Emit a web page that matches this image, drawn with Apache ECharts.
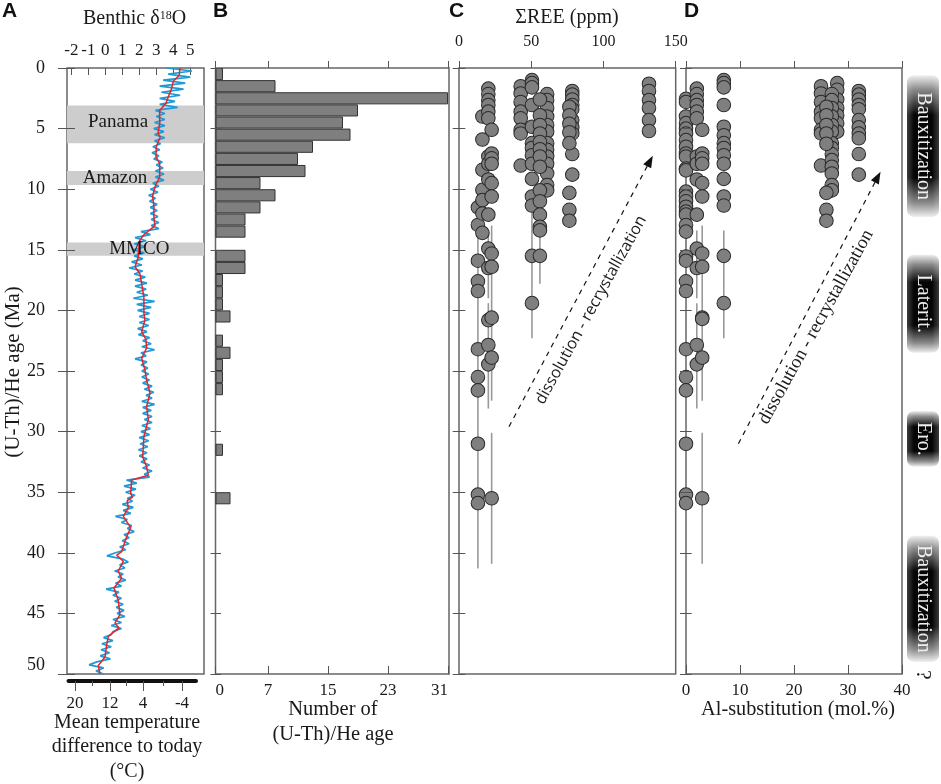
<!DOCTYPE html>
<html><head><meta charset="utf-8">
<script src="https://cdn.jsdelivr.net/npm/echarts@6/dist/echarts.min.js"></script>
<style>html,body{margin:0;padding:0;background:#fff}#c{width:941px;height:784px}</style>
</head><body><div id="c"></div>
<script>
// Panel A: benthic d18O, smoothed curve [age, d18O]
const redAge=[0,0.6,1.1,1.7,2.4,2.9,3.5,4.6,5.4,5.7,6.5,7.3,7.9,9,9.8,10.6,11.4,12.3,13,13.8,14.3,15.6,16.4,17,17.8,18.9,20.2,20.8,21.75,22.4,23.1,23.95,24.9,25.75,26.8,27.95,29,30.4,32.1,32.9,33.6,34,35.1,35.4,35.7,36.3,37,37.3,37.9,38.7,39.9,40.2,40.7,41.5,42.1,42.9,43.9,45.1,45.8,46.2,46.9,47.6,48.6,49.3,50];
const redVal=[4.39,4.35,4,3.9,3.7,3.57,3.2,3.2,3.1,3.23,3,2.98,3.2,3.2,2.92,2.78,2.86,2.86,2.92,2.24,2,1.94,1.75,2.04,2.14,2.27,2.27,2.33,2.14,2.39,2.43,2.14,2.33,2.43,2.63,2.43,2.53,2.27,2.2,2.43,2.53,1.55,1.49,1.6,1.29,1.35,1.06,1.2,1.5,1.25,0.96,0.67,1.06,0.76,0.96,0.51,0.76,0.86,0.57,0.8,0.18,0.08,-0.02,-0.41,-0.31];
// raw d18O read every 0.25 Ma
const blueVal=[3.6,5.1,3.7,5.0,3.4,4.7,3.2,4.6,3.3,4.4,3.2,4.1,3.2,4.25,2.95,3.5,3.0,3.5,2.9,3.5,2.85,3.45,2.9,3.5,2.9,3.25,2.8,3.2,2.75,3.15,2.85,3.35,3.0,3.4,2.95,3.45,2.95,3.45,2.8,3.15,2.65,3.1,2.55,2.95,2.6,3.05,2.65,3.05,2.65,3.1,2.7,3.15,2.7,3.15,2.1,2.65,1.75,2.4,1.7,2.35,1.65,2.3,1.7,2.2,
1.55,2.15,1.4,2.2,1.7,2.35,1.75,2.45,1.75,2.4,1.85,2.5,1.65,2.9,1.85,2.7,1.9,2.6,2.0,2.6,2.0,2.55,1.9,2.45,1.95,2.6,2.2,2.7,2.15,2.9,2.1,2.4,1.75,2.45,2.1,2.5,2.15,2.55,2.15,2.6,2.2,2.75,2.3,2.85,2.4,2.75,2.15,2.9,2.2,2.7,2.2,2.75,2.3,2.75,2.15,2.65,2.1,2.6,2.0,2.55,2.05,2.5,1.95,2.45,2.0,2.45,2.1,2.6,2.2,2.75,2.3,2.6,
1.25,1.85,1.1,1.8,1.2,1.75,1.3,1.6,1.0,1.65,1.05,1.5,0.6,1.3,0.95,1.55,1.3,1.7,1.1,1.4,1.0,1.4,0.85,1.2,0.6,0.1,1.0,1.35,0.85,1.15,0.55,1.05,0.75,1.2,0.6,0.95,0.05,0.8,0.45,0.95,0.55,1.05,0.65,1.1,0.7,1.15,0.45,0.95,0.35,0.95,0.45,0.35,-0.1,0.45,-0.2,0.35,-0.25,0.25,-0.3,0.3,-0.5,-0.95,-0.1,-0.55,-0.1];
const d18oTicks=[-2,-1,0,1,2,3,4,5];
const climateNames=['Panama','Amazon','MMCO'];
const climateFrom=[3.1,8.5,14.4];
const climateTo=[6.2,9.65,15.5];
const climateLabelAge=[4.43,9.05,14.95];
const climateLabelX=[0.75,0.57,2.0];
const tempTickAt=[-1.78,0.28,2.22,4.51];
const tempTickLabels=['20','12','4','-4'];
const tempMinorAt=[-0.78,1.22,3.39];

// Panel B: number of ages per 1 Ma bin, 0-50 Ma
const binCounts=[1,8,31,19,17,18,13,11,12,6,8,6,4,4,0,4,4,1,1,1,2,0,1,2,1,1,1,0,0,0,0,1,0,0,0,2,0,0,0,0,0,0,0,0,0,0,0,0,0,0];
const binLabels=binCounts.map((_,i)=>i+'-'+(i+1));
const countTicks=[0,7,15,23,31];

// Panel C: age values by REE concentration
const cAt13=[11.5,12.95,15.9,17.6,18.4,23.2,25.5,26.6,31,35.2,35.9];
const cAt16=[4.0,5.9,8.4,10.05,10.9,12,13.6];
const cAt20=[1.7,2.15,2.65,3.05,3.6,4.15,7.3,7.9,9.2,12.1,14.9,16.5,20.8,22.85,24.45];
const cAt23=[5.1,7.05,7.45,7.9,9.5,10.6,15.3,16.4,20.6,23.9,35.5];
const cAt43=[1.5,2.1,2.8,3.6,4.15,5.1,5.4,8.05];
const cAt50=[1,1.25,1.6,3.05,4.85,6.2,6.6,7.2,7.9,9.15,10.6,11.35,15.5,19.4];
const cAt56=[2.6,3.9,4.7,5.4,6.1,6.7,7.3,8.15,10.1,11,12.1,13.1,13.4,15.5];
const cAt61=[2.15,2.65,3.3,4,4.7,5.25,6.2,6.75,7.3,7.9,8.7,9.65,10.1];
const cAt76=[3.2,3.9,4.6,5.3,6.2,10.3,11.7,12.6];
const cAt78=[1.9,2.2,2.6,3.05,3.4,4.3,4.9,5.4,7.1,8.8];
const cAt131=[1.3,1.9,2.65,3.3,4.3,5.2];
const cErrX=[13.1,20.3,20.3,22.6,22.6,50.5,56];
const cErrFrom=[13.6,13.4,19.4,13,30.1,10.5,11];
const cErrTo=[41.3,19,28.1,27.45,40.9,22.3,17.8];

// Panel D: age values by Al-substitution
const dAt0=[2.55,2.8,4,4.55,5,5.4,5.95,6.5,7.05,7.3,8.3,8.45,10.2,10.6,11,11.45,11.85,12.1,12.95,13.5,15.55,15.9,17.6,18.4,23.2,25.5,26.6,31,35.2,35.9];
const dAt2=[1.7,2.15,2.65,3.05,3.6,4.15,7.3,7.9,9.2,12.1,14.9,16.5,22.85,24.45];
const dAt3=[5.1,7.05,7.45,7.9,9.5,10.6,15.3,16.4,20.6,20.7,23.9,35.5];
const dAt7=[1,1.25,1.6,3.05,4.85,5.55,6.2,6.6,7.2,7.9,9.15,10.6,11.35,15.5,19.4];
const dAt25=[1.5,2.1,2.8,3.6,4.15,5.1,5.4,8.05];
const dAt26=[3.2,3.9,4.7,5.4,6.25,10.3,11.7,12.6];
const dAt27=[2.15,2.65,3.3,4,4.7,5.25,6.2,6.6,7.1,7.6,8.15,8.7,9.65,10.1];
const dAt28=[1.25,1.8,2.6,3.3,3.9,4.55,5.25];
const dAt32=[1.9,2.2,2.6,3.05,3.4,4.3,4.9,5.4,5.8,7.1,8.8];
const dErrX=[2,2,3,3,7];
const dErrFrom=[13.4,19.4,13,30.1,13.4];
const dErrTo=[19,28.1,27.45,40.9,22.3];

// Weathering phases
const phaseNames=['Bauxitization','Laterit.','Ero.','Bauxitization'];
const phaseFrom=[0.6,15.4,28.3,38.6];
const phaseTo=[12.3,23.5,32.9,49];

const SERIF='"Liberation Serif","Times New Roman",serif';
const INK='#1a1a1a', FRAME='#666';
const NOLINE={show:false,onZero:false};
const chart=echarts.init(document.getElementById('c'),null,{renderer:'canvas'});
const T=68,H=606;
const frame=(left,width)=>({left,width,top:T,height:H,show:true,borderColor:FRAME,borderWidth:1.5,backgroundColor:'transparent',containLabel:false});
const tickLine={color:'#555',width:1};
const lab=(o)=>Object.assign({fontFamily:SERIF,fontSize:17,color:INK},o);
const ageAxis=(gridIndex,offset,len,labels)=>({type:'value',gridIndex,min:0,max:50,interval:5,inverse:true,position:'left',offset:offset,z:5,
  axisLine:NOLINE,splitLine:{show:false},axisTick:{show:true,length:len,lineStyle:tickLine},
  axisLabel:labels?lab({show:true,fontSize:18,margin:30,verticalAlignMaxLabel:'bottom'}):{show:false}});
const hiddenY=(gridIndex)=>({type:'value',gridIndex,min:0,max:50,inverse:true,show:false});

const pts=(x,ages)=>ages.map(a=>[x,a]);
const cPoints=[].concat(pts(131.5,cAt131),pts(78.4,cAt78),pts(76.4,cAt76),pts(61,cAt61),pts(42.7,cAt43),pts(50.5,cAt50),pts(56,cAt56),pts(13.1,cAt13),pts(16.2,cAt16),pts(20.3,cAt20),pts(22.6,cAt23));
const dPoints=[].concat(pts(32,dAt32),pts(25,dAt25),pts(28,dAt28),pts(27,dAt27),pts(26,dAt26),pts(7,dAt7),pts(0,dAt0),pts(2,dAt2),pts(3,dAt3));

const renderErr=(p,api)=>{
  const a=api.coord([api.value(0),api.value(1)]),b=api.coord([api.value(0),api.value(2)]);
  return {type:'line',shape:{x1:a[0],y1:a[1],x2:b[0],y2:b[1]},style:{stroke:'#999',lineWidth:1.6}};
};
const errSeries=(xs,from,to,xi,yi)=>({type:'custom',xAxisIndex:xi,yAxisIndex:yi,z:2,silent:true,clip:false,renderItem:renderErr,encode:{x:0,y:1},
  data:xs.map((x,i)=>[x,from[i],to[i]])});
const scat=(data,xi,yi)=>({type:'scatter',xAxisIndex:xi,yAxisIndex:yi,z:3,symbolSize:13.6,clip:false,data,
  itemStyle:{color:'#7f7f7f',borderColor:'#2a2a2a',borderWidth:1,opacity:1}});
const arrow=(x1,a1,x2,a2,xi,yi)=>({type:'line',xAxisIndex:xi,yAxisIndex:yi,z:4,showSymbol:false,silent:true,
  data:[[x1,a1],[x2,a2]],symbol:'none',lineStyle:{color:'#111',width:1.2,type:[5,5]},
  markPoint:{symbol:'triangle',symbolSize:[9,12],symbolRotate:-28,silent:true,itemStyle:{color:'#111'},label:{show:false},data:[{coord:[x2,a2]}]}});

const option={
  animation:false,backgroundColor:'#fff',
  grid:[frame(67,137),frame(215.5,233.5),frame(459,216.7),frame(686,216),
    {left:68.5,width:127.5,top:680,height:1,show:false},
    {left:907,width:32,top:T,height:H,show:false}],
  xAxis:[
    {type:'value',gridIndex:0,position:'top',min:-2.253,max:5.806,axisLine:NOLINE,splitLine:{show:false},
      axisTick:{show:true,inside:true,length:7,lineStyle:tickLine,customValues:d18oTicks},
      axisLabel:lab({margin:9,customValues:d18oTicks})},
    {type:'value',gridIndex:1,position:'top',min:0,max:31.13,axisLine:NOLINE,splitLine:{show:false},
      axisTick:{show:true,length:7,lineStyle:tickLine,customValues:countTicks},axisLabel:{show:false}},
    {type:'value',gridIndex:1,position:'bottom',min:0,max:31.13,axisLine:NOLINE,splitLine:{show:false},
      axisTick:{show:true,inside:true,length:8,lineStyle:tickLine,customValues:countTicks},
      axisLabel:lab({margin:8,alignMinLabel:'left',alignMaxLabel:'right',customValues:countTicks})},
    {type:'value',gridIndex:2,position:'top',min:0,max:150,interval:50,axisLine:NOLINE,splitLine:{show:false},
      axisTick:{show:true,length:7,lineStyle:tickLine},axisLabel:lab({fontSize:16,margin:18})},
    {type:'value',gridIndex:3,position:'top',min:0,max:40,interval:10,axisLine:NOLINE,splitLine:{show:false},
      axisTick:{show:true,length:7,lineStyle:tickLine},axisLabel:{show:false}},
    {type:'value',gridIndex:3,position:'bottom',min:0,max:40,interval:10,axisLine:NOLINE,splitLine:{show:false},
      axisTick:{show:true,inside:true,length:9,lineStyle:tickLine},axisLabel:lab({margin:8})},
    {type:'value',gridIndex:4,position:'bottom',min:-2.165,max:5.335,axisLine:{show:true,onZero:false,lineStyle:{color:'#111',width:4}},splitLine:{show:false},
      axisTick:{show:true,length:10,lineStyle:tickLine,customValues:tempTickAt},
      axisLabel:lab({margin:14,customValues:tempTickAt,formatter:v=>{const i=tempTickAt.findIndex(t=>Math.abs(t-v)<1e-6);return i<0?'':tempTickLabels[i];}})},
    {type:'value',gridIndex:4,position:'bottom',min:-2.165,max:5.335,axisLine:NOLINE,splitLine:{show:false},
      axisTick:{show:true,length:5,lineStyle:tickLine,customValues:tempMinorAt},axisLabel:{show:false}},
    {type:'value',gridIndex:5,min:0,max:1,show:false}
  ],
  yAxis:[
    ageAxis(0,-8,17,true),
    ageAxis(1,-5.5,10.5,false),
    {type:'category',gridIndex:1,data:binLabels,inverse:true,show:false,boundaryGap:true},
    ageAxis(2,-6.3,12.6,false),
    ageAxis(3,-5.7,11.7,false),
    {type:'value',gridIndex:4,show:false},
    hiddenY(5)
  ],
  graphic:{elements:[
    ...[['A',2,11],['B',213,11],['C',449,11],['D',684,11]].map(([t,x,y])=>({type:'text',x,y,style:{text:t,font:'bold 21px "Liberation Sans",Arial,sans-serif',fill:'#111',textVerticalAlign:'middle'}})),
    {type:'text',x:83,y:19,style:{text:'{a|Benthic δ}{s|18}{a|O}',fill:INK,textVerticalAlign:'middle',rich:{a:{font:'20px '+SERIF,fill:INK},s:{font:'12px '+SERIF,fill:INK,padding:[0,0,7,0]}}}},
    ...[['ΣREE (ppm)',567,18,20],['Number of',333,710,20.5],['(U-Th)/He age',333,735,20.5],['Mean temperature',127,723,20],['difference to today',127,747,20],['(°C)',127,772,20],['Al-substitution (mol.%)',798,710,20.3]]
      .map(([t,x,y,s])=>({type:'text',x,y,style:{text:t,font:s+'px '+SERIF,fill:INK,textAlign:'center',textVerticalAlign:'middle'}})),
    {type:'text',x:13,y:372,rotation:Math.PI/2,style:{text:'(U-Th)/He age (Ma)',font:'21px '+SERIF,fill:INK,textAlign:'center',textVerticalAlign:'middle'}},
    {type:'text',x:591,y:310,rotation:61*Math.PI/180,style:{text:'dissolution - recrystallization',font:'16px "Open Sans","Noto Sans",sans-serif',fill:INK,textAlign:'center',textVerticalAlign:'middle'}},
    {type:'text',x:816,y:327,rotation:61*Math.PI/180,style:{text:'dissolution - recrystallization',font:'18.8px '+SERIF,fill:INK,textAlign:'center',textVerticalAlign:'middle'}},
    {type:'text',x:923,y:675,rotation:-Math.PI/2,style:{text:'?',font:'22px '+SERIF,fill:INK,textAlign:'center',textVerticalAlign:'middle'}}
  ]},
  series:[
    {type:'custom',xAxisIndex:0,yAxisIndex:0,z:1,silent:true,encode:{x:0,y:1},
      data:climateFrom.map((f,i)=>[0,f,climateTo[i]]),
      renderItem:(p,api)=>{const a=api.coord([-2.253,api.value(1)]),b=api.coord([5.806,api.value(2)]);
        return {type:'rect',shape:{x:a[0],y:a[1],width:b[0]-a[0],height:b[1]-a[1]},style:{fill:'#cdcdcd'}};}},
    {type:'line',xAxisIndex:0,yAxisIndex:0,z:2,showSymbol:false,silent:true,sampling:false,
      data:blueVal.map((v,i)=>[v,i*0.25]),lineStyle:{color:'#1f9ad6',width:1.7,join:'bevel'}},
    {type:'line',xAxisIndex:0,yAxisIndex:0,z:3,showSymbol:false,silent:true,
      data:redVal.map((v,i)=>[v,redAge[i]]),lineStyle:{color:'#e5252d',width:1.5}},
    {type:'custom',xAxisIndex:0,yAxisIndex:0,z:4,silent:true,encode:{x:0,y:1},
      data:climateNames.map((n,i)=>[climateLabelX[i],climateLabelAge[i],n]),
      renderItem:(p,api)=>{const c=api.coord([api.value(0),api.value(1)]);
        return {type:'text',x:c[0],y:c[1],style:{text:climateNames[p.dataIndex],font:'19px '+SERIF,fill:INK,textAlign:'center',textVerticalAlign:'middle'}};}},
    {type:'bar',xAxisIndex:1,yAxisIndex:2,z:2,barWidth:'100%',silent:true,
      data:binCounts.map(v=>v||null),itemStyle:{color:'#7f7f7f',borderColor:'#333',borderWidth:1}},
    errSeries(cErrX,cErrFrom,cErrTo,3,3),
    scat(cPoints,3,3),
    arrow(34.6,29.6,132.2,7.67,3,3),
    errSeries(dErrX,dErrFrom,dErrTo,4,4),
    scat(dPoints,4,4),
    arrow(9.7,31,35.5,9,4,4),
    {type:'custom',xAxisIndex:8,yAxisIndex:6,z:2,silent:true,clip:false,encode:{x:0,y:1},
      data:phaseNames.map((n,i)=>[0,phaseFrom[i],phaseTo[i]]),
      renderItem:(p,api)=>{const a=api.coord([0,api.value(1)]),b=api.coord([1,api.value(2)]);
        const w=b[0]-a[0],h=b[1]-a[1];
        const fill=new echarts.graphic.LinearGradient(0,0,0,1,[
          {offset:0,color:'#f0f0f0'},{offset:0.1,color:'#8a8a8a'},{offset:0.28,color:'#050505'},{offset:0.72,color:'#050505'},{offset:0.9,color:'#8a8a8a'},{offset:1,color:'#f0f0f0'}]);
        const edge=new echarts.graphic.LinearGradient(0,0,1,0,[
          {offset:0,color:'rgba(255,255,255,0.22)'},{offset:0.22,color:'rgba(255,255,255,0)'},{offset:0.78,color:'rgba(255,255,255,0)'},{offset:1,color:'rgba(255,255,255,0.22)'}]);
        return {type:'group',children:[
          {type:'rect',shape:{x:a[0],y:a[1],width:w,height:h,r:7},style:{fill}},
          {type:'rect',shape:{x:a[0],y:a[1],width:w,height:h,r:7},style:{fill:edge}},
          {type:'text',x:a[0]+w/2,y:a[1]+h/2,rotation:-Math.PI/2,style:{text:phaseNames[p.dataIndex],font:'20px '+SERIF,fill:'#eee',textAlign:'center',textVerticalAlign:'middle'}}
        ]};}}
  ]
};
chart.setOption(option);
</script></body></html>
